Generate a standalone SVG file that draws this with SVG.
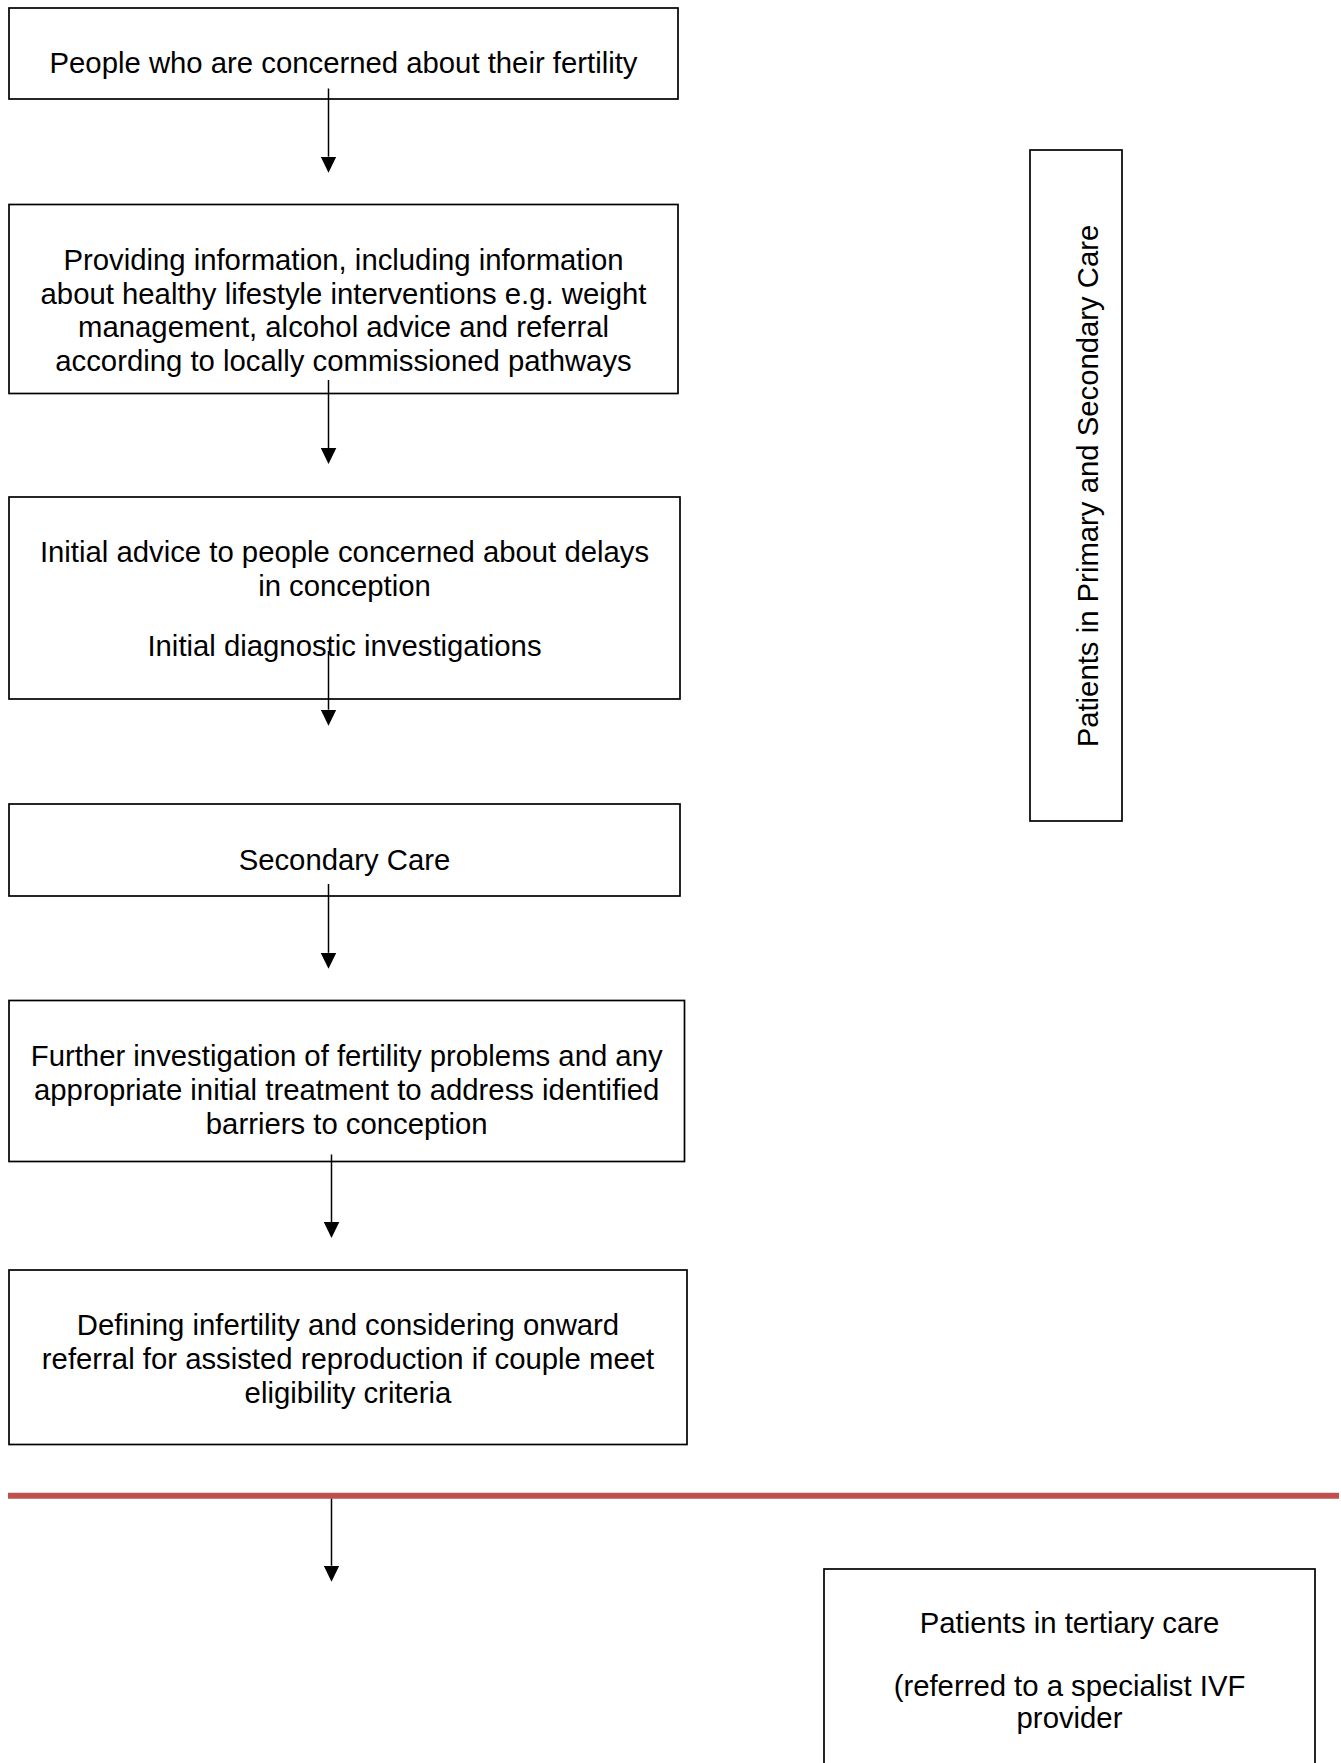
<svg xmlns="http://www.w3.org/2000/svg" width="1341" height="1763" viewBox="0 0 1341 1763">
<style>
.box{fill:#fff;stroke:#000;stroke-width:1.7}
.t{font-family:"Liberation Sans",Arial,sans-serif;font-size:29.3px;fill:#000;text-anchor:middle}
.conn{stroke:#000;stroke-width:1.5;fill:none;marker-end:url(#ah)}
</style>
<defs>
<marker id="ah" markerUnits="userSpaceOnUse" markerWidth="16" markerHeight="16" viewBox="0 -8 16 16" refX="0" refY="0" orient="auto">
<path d="M0,-7.8 L16,0 L0,7.8 z" fill="#000"/>
</marker>
</defs>
<rect width="1341" height="1763" fill="#fff"/>
<g id="n1"><rect class="box" x="9" y="8" width="669" height="91"/><text class="t" x="343.5" y="73">People who are concerned about their fertility</text></g>
<g id="n2"><rect class="box" x="9" y="204.5" width="669" height="189"/>
<text class="t" x="343.5" y="270">Providing information, including information</text>
<text class="t" x="343.5" y="303.7">about healthy lifestyle interventions e.g. weight</text>
<text class="t" x="343.5" y="337.4">management, alcohol advice and referral</text>
<text class="t" x="343.5" y="371">according to locally commissioned pathways</text></g>
<g id="n3"><rect class="box" x="9" y="497" width="671" height="202"/>
<text class="t" x="344.5" y="562">Initial advice to people concerned about delays</text>
<text class="t" x="344.5" y="596">in conception</text>
<text class="t" x="344.5" y="656">Initial diagnostic investigations</text></g>
<g id="n4"><rect class="box" x="9" y="804" width="671" height="92"/><text class="t" x="344.5" y="870">Secondary Care</text></g>
<g id="n5"><rect class="box" x="9" y="1000.5" width="675.5" height="161"/>
<text class="t" x="346.7" y="1066">Further investigation of fertility problems and any</text>
<text class="t" x="346.7" y="1100">appropriate initial treatment to address identified</text>
<text class="t" x="346.7" y="1134">barriers to conception</text></g>
<g id="n6"><rect class="box" x="9" y="1270" width="678" height="174.5"/>
<text class="t" x="348" y="1335">Defining infertility and considering onward</text>
<text class="t" x="348" y="1369">referral for assisted reproduction if couple meet</text>
<text class="t" x="348" y="1403">eligibility criteria</text></g>
<g id="side"><rect class="box" x="1030" y="150" width="92" height="671"/>
<text class="t" transform="translate(1098,486) rotate(-90)" x="0" y="0">Patients in Primary and Secondary Care</text></g>
<g id="divider"><line x1="8" y1="1495.7" x2="1339" y2="1495.7" stroke="#c0504d" stroke-width="6"/></g>
<g id="n7"><rect class="box" x="824" y="1569" width="491" height="220"/>
<text class="t" x="1069.5" y="1633">Patients in tertiary care</text>
<text class="t" x="1069.5" y="1696">(referred to a specialist IVF</text>
<text class="t" x="1069.5" y="1728">provider</text></g>
<g id="connectors">
<line class="conn" x1="328.5" y1="88.5" x2="328.5" y2="156.7"/>
<line class="conn" x1="328.5" y1="380" x2="328.5" y2="448"/>
<line class="conn" x1="328.5" y1="651" x2="328.5" y2="709.7"/>
<line class="conn" x1="328.5" y1="884" x2="328.5" y2="952.8"/>
<line class="conn" x1="331.5" y1="1154.5" x2="331.5" y2="1222"/>
<line class="conn" x1="331.5" y1="1498.7" x2="331.5" y2="1565.7"/>
</g>
</svg>
